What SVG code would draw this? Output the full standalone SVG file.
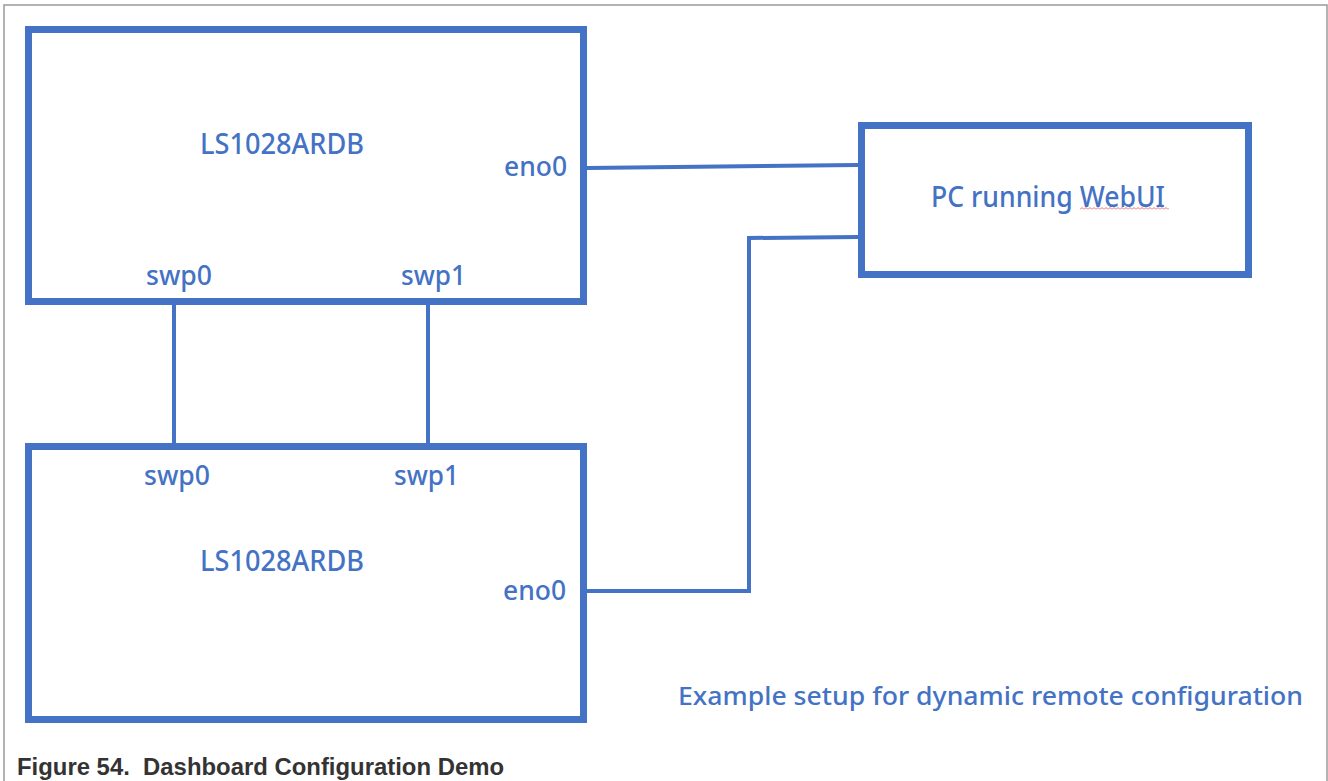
<svg xmlns="http://www.w3.org/2000/svg" width="1328" height="781" viewBox="0 0 1328 781">
  <style>
    .box { fill: #ffffff; stroke: #4472C4; stroke-width: 7; }
    .conn { fill: none; stroke: #4472C4; stroke-width: 4; }
    .lbl { font-family: "Noto Sans", "Open Sans", "Liberation Sans", sans-serif; fill: #4472C4; font-size: 27px; font-weight: 500; }
    .big { font-size: 28px; }
    .note { font-size: 26px; }
    .cap { font-family: "Liberation Sans", Arial, sans-serif; font-weight: bold; font-size: 23px; fill: #333333; }
  </style>
  <defs>
    <pattern id="squig" width="4" height="3" patternUnits="userSpaceOnUse" x="1080" y="207">
      <path d="M0,2.5 L2,0.5 L4,2.5" fill="none" stroke="#e04848" stroke-width="0.8"/>
    </pattern>
  </defs>
  <rect width="1328" height="781" fill="#ffffff"/>
  <path d="M4,781 V5 H1327 V781" fill="none" stroke="#9a9a9a" stroke-width="1.5"/>

  <g id="connectors">
    <path class="conn" d="M587,168 L858,165"/>
    <path class="conn" d="M174,305 V443"/>
    <path class="conn" d="M428,305 V443"/>
    <path class="conn" d="M587,591 H749 V238 L858,237"/>
  </g>

  <g id="board-top">
    <rect class="box" x="28.5" y="29.5" width="555" height="272"/>
    <text class="lbl big" x="200" y="154" textLength="164" lengthAdjust="spacingAndGlyphs">LS1028ARDB</text>
    <text class="lbl" x="504" y="176" textLength="63" lengthAdjust="spacingAndGlyphs">eno0</text>
    <text class="lbl" x="146" y="285" textLength="66" lengthAdjust="spacingAndGlyphs">swp0</text>
    <text class="lbl" x="401" y="285" textLength="65" lengthAdjust="spacingAndGlyphs">swp1</text>
  </g>

  <g id="board-bottom">
    <rect class="box" x="28.5" y="446.5" width="555" height="273"/>
    <text class="lbl" x="144" y="485" textLength="66" lengthAdjust="spacingAndGlyphs">swp0</text>
    <text class="lbl" x="394" y="485" textLength="65" lengthAdjust="spacingAndGlyphs">swp1</text>
    <text class="lbl big" x="200" y="571" textLength="164" lengthAdjust="spacingAndGlyphs">LS1028ARDB</text>
    <text class="lbl" x="503" y="600" textLength="63" lengthAdjust="spacingAndGlyphs">eno0</text>
  </g>

  <g id="pc">
    <rect class="box" x="861.5" y="125.5" width="387" height="149"/>
    <text class="lbl big" x="931" y="207" textLength="234" lengthAdjust="spacingAndGlyphs">PC running WebUI</text>
    <rect x="1080" y="207" width="89" height="3" fill="url(#squig)"/>
  </g>

  <g id="note">
    <text class="lbl note" x="678" y="705" textLength="625" lengthAdjust="spacingAndGlyphs">Example setup for dynamic remote configuration</text>
  </g>

  <g id="caption">
    <text class="cap" x="17" y="775" textLength="487" lengthAdjust="spacingAndGlyphs" xml:space="preserve">Figure 54.  Dashboard Configuration Demo</text>
  </g>
</svg>
